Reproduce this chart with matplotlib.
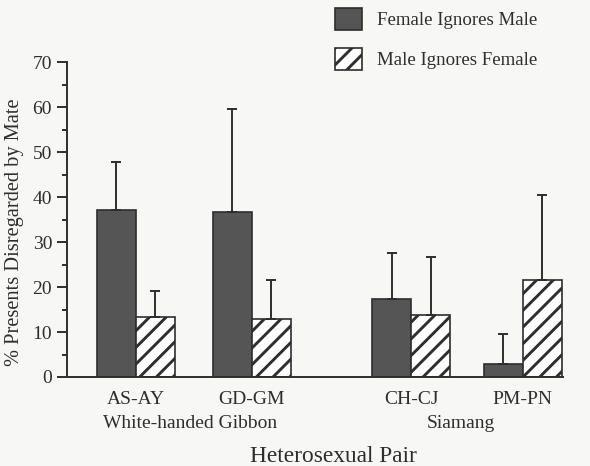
import numpy as np
import matplotlib
matplotlib.use("Agg")
import matplotlib.pyplot as plt

# -------------------------------------------------- data -------------------------------------------------
pairs = ["AS-AY", "GD-GM", "CH-CJ", "PM-PN"]
species = ["White-handed Gibbon", "Siamang"]
female_ignores = [37.2, 36.6, 17.3, 2.8]
female_upper = [47.8, 59.7, 27.6, 9.5]
male_ignores = [13.4, 13.0, 13.7, 21.6]
male_upper = [19.2, 21.6, 26.8, 40.5]
series_names = ["Female Ignores Male", "Male Ignores Female"]

# -------------------------------------------------- layout -------------------------------------------------
group_pos = np.array([0.0, 1.0, 2.377, 3.339])
species_pos = [0.47, 2.80]
width = 0.336
ink = "#2e2e2e"
paper = "#f7f7f5"

plt.rcParams["font.family"] = ["Liberation Serif", "DejaVu Serif"]
plt.rcParams["hatch.linewidth"] = 2.1
plt.rcParams["hatch.color"] = ink
plt.rcParams["text.color"] = ink

fig = plt.figure(figsize=(5.9, 4.66), dpi=100, facecolor=paper)
ax = fig.add_axes([0.113, 0.191, 0.954 - 0.113, 0.8663 - 0.191], facecolor=paper)

fem_err = [np.zeros(len(pairs)), np.array(female_upper) - np.array(female_ignores)]
male_err = [np.zeros(len(pairs)), np.array(male_upper) - np.array(male_ignores)]

ax.bar(group_pos - width / 2, female_ignores, width, color="#555555", edgecolor=ink,
       linewidth=1.2, label=series_names[0], yerr=fem_err,
       error_kw=dict(ecolor=ink, elinewidth=1.4, capsize=3.3, capthick=1.4))
ax.bar(group_pos + width / 2, male_ignores, width, color="white", edgecolor=ink,
       linewidth=1.2, hatch="//", label=series_names[1], yerr=male_err,
       error_kw=dict(ecolor=ink, elinewidth=1.4, capsize=3.3, capthick=1.4))

ax.set_xlim(-0.597, 3.684)
ax.set_ylim(0, 70)
for side in ["top", "right"]:
    ax.spines[side].set_visible(False)
for side in ["left", "bottom"]:
    ax.spines[side].set_color(ink)
    ax.spines[side].set_linewidth(1.4)

ax.set_yticks(np.arange(0, 71, 10))
ax.set_yticks(np.arange(5, 70, 10), minor=True)
ax.tick_params(axis="y", which="major", length=7, width=1.4, color=ink, pad=3.5,
               labelsize=14, labelcolor=ink)
ax.tick_params(axis="y", which="minor", length=3.5, width=1.4, color=ink)
ax.set_xticks(group_pos, pairs)
ax.tick_params(axis="x", length=0, pad=10, labelsize=14, labelcolor=ink)

tr = ax.get_xaxis_transform()
for name, xp in zip(species, species_pos):
    ax.text(xp, -0.149, name, transform=tr, ha="center", va="center", fontsize=14)

fig.text(333 / 590, 1 - 456 / 466, "Heterosexual Pair", ha="center", va="center", fontsize=16.8)
fig.text(15 / 590, 1 - 232 / 466, "% Presents Disregarded by Mate", ha="center", va="center",
         rotation=90, fontsize=14.7)

fig.legend(loc="upper left", bbox_to_anchor=(335 / 590, 1 - 8 / 466), frameon=False,
           fontsize=13.6, handlelength=1.43, handleheight=1.43, handletextpad=0.8,
           labelspacing=0.95, borderpad=0, borderaxespad=0)

fig.savefig("out.png", dpi=100, facecolor=paper)
